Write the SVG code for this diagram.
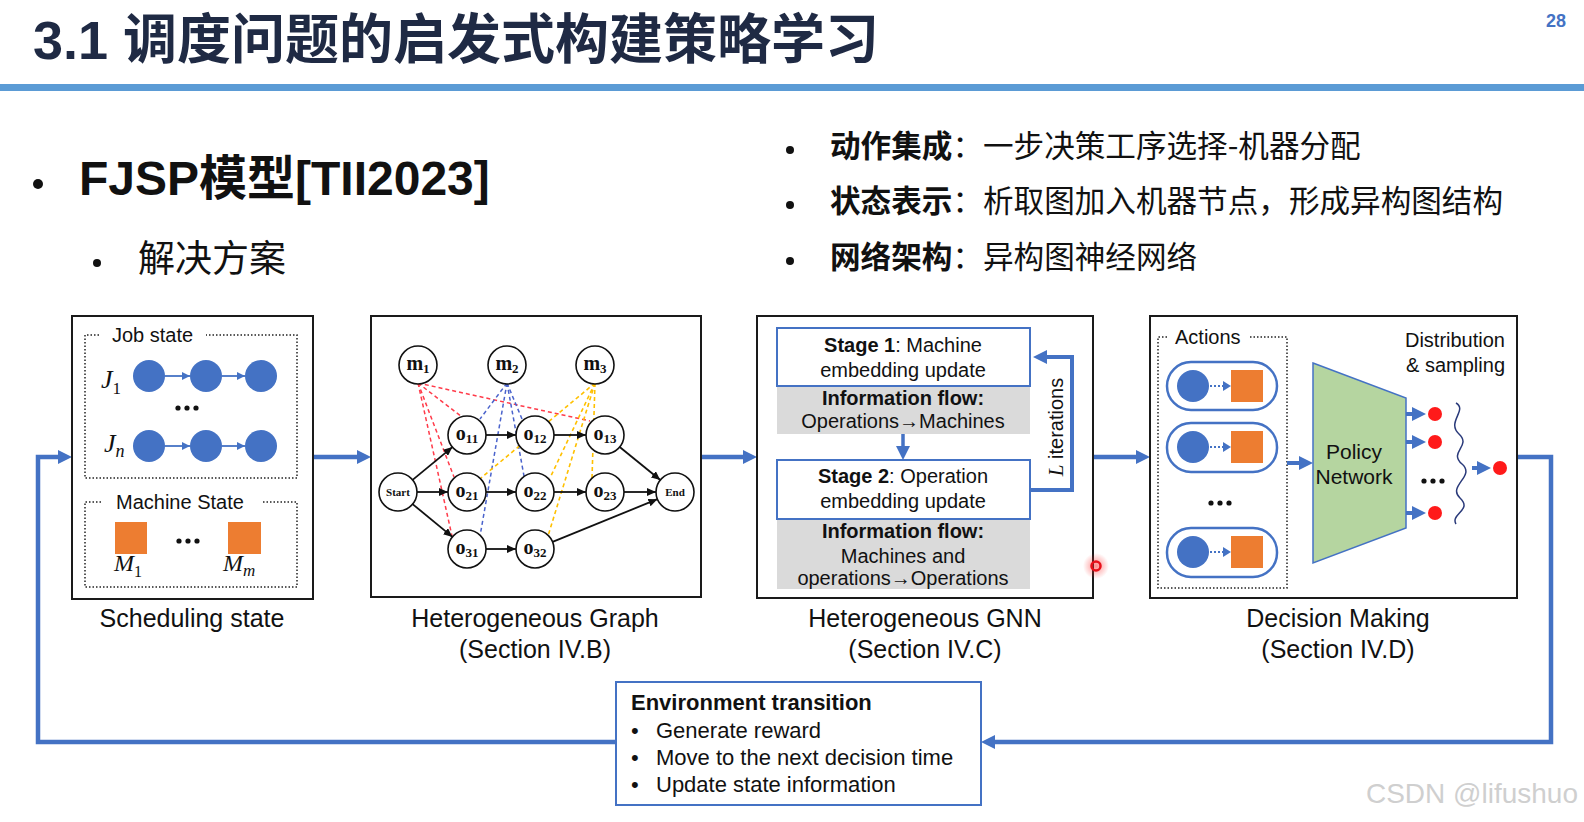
<svg xmlns="http://www.w3.org/2000/svg" width="1584" height="822" viewBox="0 0 1584 822">
<defs>
<style>
.t{font-family:"Liberation Sans","Noto Sans CJK SC",sans-serif;fill:#111}
.cjk{font-family:"Noto Sans CJK SC","Liberation Sans",sans-serif;fill:#111}
.b{font-weight:bold}
.box{fill:#fff;stroke:#1a1a1a;stroke-width:2}
.dot{fill:none;stroke:#222;stroke-width:1.5;stroke-dasharray:1.5 2}
.conn{fill:none;stroke:#4472c4;stroke-width:4.5;marker-end:url(#ab)}
.bl{fill:#4472c4}
.or{fill:#ed7d31}
.rd{fill:#ff1a1a}
.gn{fill:#fff;stroke:#111;stroke-width:1.6}
.ge{stroke:#111;stroke-width:1.8;marker-end:url(#ak)}
.dr{stroke:#ff3b4a;stroke-width:1.5;stroke-dasharray:4 3}
.db{stroke:#4a63cc;stroke-width:1.5;stroke-dasharray:4 3}
.dy{stroke:#ffc000;stroke-width:1.6;stroke-dasharray:4 3}
.gl{font-family:"Liberation Serif",serif;font-weight:bold;font-size:20px;text-anchor:middle;fill:#111}
.gs{font-family:"Liberation Serif",serif;font-weight:bold;font-size:11px;text-anchor:middle;fill:#111}
.sub{font-size:13px}
.math{font-family:"Liberation Serif",serif;font-style:italic;fill:#111}
.stg{fill:#fff;stroke:#4472c4;stroke-width:2}
.gray{fill:#dadada}
.pill{fill:#fff;stroke:#4472c4;stroke-width:2.5}
.sa{stroke:#4472c4;stroke-width:1.8;marker-end:url(#as)}
.c{text-anchor:middle}
</style>
<marker id="ab" markerUnits="userSpaceOnUse" viewBox="0 0 14 14" markerWidth="14" markerHeight="14" refX="4" refY="7" orient="auto"><path d="M0,0 L14,7 L0,14 z" fill="#4472c4"/></marker>
<marker id="as" markerUnits="userSpaceOnUse" viewBox="0 0 8 8" markerWidth="8" markerHeight="8" refX="8" refY="4" orient="auto"><path d="M0,0 L8,4 L0,8 z" fill="#4472c4"/></marker>
<marker id="ak" markerUnits="userSpaceOnUse" viewBox="0 0 9 8" markerWidth="9" markerHeight="8" refX="9" refY="4" orient="auto"><path d="M0,0 L9,4 L0,8 z" fill="#111"/></marker>
<radialGradient id="glow"><stop offset="0" stop-color="#ff3030" stop-opacity="0.55"/><stop offset="1" stop-color="#ff3030" stop-opacity="0"/></radialGradient>
</defs>
<rect width="1584" height="822" fill="#fff"/>

<g id="header">
<text class="t b" x="33" y="59" font-size="54" style="fill:#1f2a44">3.1 调度问题的启发式构建策略学习</text>
<rect x="0" y="84" width="1584" height="7" fill="#5b9bd5"/>
<text class="t b" x="1566" y="27" font-size="18" text-anchor="end" style="fill:#4472c4">28</text>
</g>

<g id="bullets">
<circle cx="38" cy="184" r="5" fill="#111"/>
<text class="t b" x="79" y="195" font-size="48">FJSP模型[TII2023]</text>
<circle cx="97" cy="263" r="4" fill="#111"/>
<text class="cjk" x="138" y="272" font-size="37">解决方案</text>
<circle cx="790" cy="150" r="4" fill="#111"/>
<text class="cjk" x="830" y="157" font-size="30.6"><tspan font-weight="bold">动作集成</tspan>：一步决策工序选择-机器分配</text>
<circle cx="790" cy="205" r="4" fill="#111"/>
<text class="cjk" x="830" y="212" font-size="30.6"><tspan font-weight="bold">状态表示</tspan>：析取图加入机器节点，形成异构图结构</text>
<circle cx="790" cy="261" r="4" fill="#111"/>
<text class="cjk" x="830" y="268" font-size="30.6"><tspan font-weight="bold">网络架构</tspan>：异构图神经网络</text>
</g>

<g id="connectors">
<path class="conn" d="M313,457 H361"/>
<path class="conn" d="M701,457 H747"/>
<path class="conn" d="M1093,457 H1140"/>
<path class="conn" d="M1517,457 H1551 V742 H991"/>
<path class="conn" d="M616,742 H38 V457 H62"/>
</g>

<g id="scheduling-state">
<rect class="box" x="72" y="316" width="241" height="283"/>
<path class="dot" d="M99,335 H85 V478 H297 V335 H206"/>
<text class="t" x="112" y="342" font-size="20">Job state</text>
<text class="math" x="101" y="388" font-size="26">J<tspan font-style="normal" font-size="17" dy="6">1</tspan></text>
<circle class="bl" cx="149" cy="376" r="16"/>
<circle class="bl" cx="206" cy="376" r="16"/>
<circle class="bl" cx="261" cy="376" r="16"/>
<line class="sa" x1="165" y1="376" x2="190" y2="376"/>
<line class="sa" x1="222" y1="376" x2="245" y2="376"/>
<circle cx="178" cy="408" r="2.6" fill="#111"/><circle cx="187" cy="408" r="2.6" fill="#111"/><circle cx="196" cy="408" r="2.6" fill="#111"/>
<text class="math" x="104" y="452" font-size="26">J<tspan font-size="18" dy="5">n</tspan></text>
<circle class="bl" cx="149" cy="446" r="16"/>
<circle class="bl" cx="206" cy="446" r="16"/>
<circle class="bl" cx="261" cy="446" r="16"/>
<line class="sa" x1="165" y1="446" x2="190" y2="446"/>
<line class="sa" x1="222" y1="446" x2="245" y2="446"/>
<path class="dot" d="M101,502 H85 V587 H297 V502 H262"/>
<text class="t" x="116" y="509" font-size="20">Machine State</text>
<rect class="or" x="115" y="522" width="32" height="32"/>
<rect class="or" x="228" y="522" width="33" height="32"/>
<circle cx="179" cy="541" r="2.6" fill="#111"/><circle cx="188" cy="541" r="2.6" fill="#111"/><circle cx="197" cy="541" r="2.6" fill="#111"/>
<text class="math" x="114" y="571" font-size="24">M<tspan font-style="normal" font-size="16" dy="6">1</tspan></text>
<text class="math" x="223" y="571" font-size="24">M<tspan font-size="17" dy="5">m</tspan></text>
<text class="t c" x="192" y="627" font-size="25">Scheduling state</text>
</g>

<g id="heterogeneous-graph">
<rect class="box" x="371" y="316" width="330" height="281"/>
<g id="graph-edges">
<line class="dr" x1="418" y1="383" x2="462" y2="417"/>
<line class="dr" x1="418" y1="383" x2="590" y2="421"/>
<line class="dr" x1="418" y1="383" x2="454" y2="477"/>
<line class="dr" x1="418" y1="383" x2="452" y2="536"/>
<line class="db" x1="507" y1="383" x2="480" y2="419"/>
<line class="db" x1="507" y1="383" x2="522" y2="419"/>
<line class="db" x1="507" y1="383" x2="524" y2="476"/>
<line class="db" x1="507" y1="383" x2="480" y2="536"/>
<line class="dy" x1="595" y1="383" x2="481" y2="478"/>
<line class="dy" x1="595" y1="383" x2="550" y2="478"/>
<line class="dy" x1="595" y1="383" x2="548" y2="536"/>
<line class="dy" x1="595" y1="383" x2="592" y2="478"/>
<line class="ge" x1="412.6" y1="479.9" x2="452.4" y2="447.1"/>
<line class="ge" x1="417" y1="492" x2="448" y2="492"/>
<line class="ge" x1="412.6" y1="504.1" x2="452.4" y2="536.9"/>
<line class="ge" x1="486" y1="435" x2="516" y2="435"/>
<line class="ge" x1="554" y1="435" x2="586" y2="435"/>
<line class="ge" x1="486" y1="492" x2="516" y2="492"/>
<line class="ge" x1="554" y1="492" x2="586" y2="492"/>
<line class="ge" x1="486" y1="549" x2="516" y2="549"/>
<line class="ge" x1="619.7" y1="447" x2="660.3" y2="480"/>
<line class="ge" x1="624" y1="492" x2="656" y2="492"/>
<line class="ge" x1="552.6" y1="541.8" x2="657.4" y2="499.2"/>
</g>
<g id="n-m1"><circle class="gn" cx="418" cy="365" r="19"/><text class="gl" x="418" y="370">m<tspan class="sub" dy="3">1</tspan></text></g>
<g id="n-m2"><circle class="gn" cx="507" cy="365" r="19"/><text class="gl" x="507" y="370">m<tspan class="sub" dy="3">2</tspan></text></g>
<g id="n-m3"><circle class="gn" cx="595" cy="365" r="19"/><text class="gl" x="595" y="370">m<tspan class="sub" dy="3">3</tspan></text></g>
<g id="n-o11"><circle class="gn" cx="467" cy="435" r="19"/><text class="gl" x="467" y="440">o<tspan class="sub" dy="3">11</tspan></text></g>
<g id="n-o12"><circle class="gn" cx="535" cy="435" r="19"/><text class="gl" x="535" y="440">o<tspan class="sub" dy="3">12</tspan></text></g>
<g id="n-o13"><circle class="gn" cx="605" cy="435" r="19"/><text class="gl" x="605" y="440">o<tspan class="sub" dy="3">13</tspan></text></g>
<g id="n-o21"><circle class="gn" cx="467" cy="492" r="19"/><text class="gl" x="467" y="497">o<tspan class="sub" dy="3">21</tspan></text></g>
<g id="n-o22"><circle class="gn" cx="535" cy="492" r="19"/><text class="gl" x="535" y="497">o<tspan class="sub" dy="3">22</tspan></text></g>
<g id="n-o23"><circle class="gn" cx="605" cy="492" r="19"/><text class="gl" x="605" y="497">o<tspan class="sub" dy="3">23</tspan></text></g>
<g id="n-o31"><circle class="gn" cx="467" cy="549" r="19"/><text class="gl" x="467" y="554">o<tspan class="sub" dy="3">31</tspan></text></g>
<g id="n-o32"><circle class="gn" cx="535" cy="549" r="19"/><text class="gl" x="535" y="554">o<tspan class="sub" dy="3">32</tspan></text></g>
<g id="n-start"><circle class="gn" cx="398" cy="492" r="19"/><text class="gs" x="398" y="496">Start</text></g>
<g id="n-end"><circle class="gn" cx="675" cy="492" r="19"/><text class="gs" x="675" y="496">End</text></g>
<text class="t c" x="535" y="627" font-size="25">Heterogeneous Graph</text>
<text class="t c" x="535" y="658" font-size="25">(Section IV.B)</text>
</g>

<g id="heterogeneous-gnn">
<rect class="box" x="757" y="316" width="336" height="282"/>
<rect class="gray" x="777" y="386" width="253" height="48"/>
<rect class="gray" x="777" y="519" width="253" height="70"/>
<rect class="stg" x="777" y="328" width="253" height="58"/>
<rect class="stg" x="777" y="460" width="253" height="59"/>
<text class="t c" x="903" y="352" font-size="20"><tspan font-weight="bold">Stage 1</tspan>: Machine</text>
<text class="t c" x="903" y="377" font-size="20">embedding update</text>
<text class="t c b" x="903" y="405" font-size="20">Information flow:</text>
<text class="t c" x="903" y="428" font-size="20">Operations→Machines</text>
<text class="t c" x="903" y="483" font-size="20"><tspan font-weight="bold">Stage 2</tspan>: Operation</text>
<text class="t c" x="903" y="508" font-size="20">embedding update</text>
<text class="t c b" x="903" y="538" font-size="20">Information flow:</text>
<text class="t c" x="903" y="563" font-size="20">Machines and</text>
<text class="t c" x="903" y="585" font-size="20">operations→Operations</text>
<path d="M903,434 V450" fill="none" stroke="#4472c4" stroke-width="3.5" marker-end="url(#ab)"/>
<path d="M1030,490 H1072 V357 H1043" fill="none" stroke="#4472c4" stroke-width="4" marker-end="url(#ab)"/>
<text class="t" transform="translate(1056,427) rotate(-90)" x="0" y="7" font-size="20" text-anchor="middle"><tspan class="math" font-size="21">L</tspan> iterations</text>
<text class="t c" x="925" y="627" font-size="25">Heterogeneous GNN</text>
<text class="t c" x="925" y="658" font-size="25">(Section IV.C)</text>
</g>

<g id="decision-making">
<rect class="box" x="1150" y="316" width="367" height="282"/>
<path class="dot" d="M1167,337 H1158 V588 H1287 V337 H1250"/>
<text class="t" x="1175" y="344" font-size="20">Actions</text>
<rect class="pill" x="1167" y="362" width="110" height="48" rx="24"/>
<circle class="bl" cx="1193" cy="386" r="16"/>
<line x1="1210" y1="386" x2="1224" y2="386" stroke="#4472c4" stroke-width="2" stroke-dasharray="2 2"/>
<path d="M1223,381 L1231,386 L1223,391 z" fill="#4472c4"/>
<rect class="or" x="1231" y="370" width="32" height="32"/>
<rect class="pill" x="1167" y="423" width="110" height="49" rx="24"/>
<circle class="bl" cx="1193" cy="447" r="16"/>
<line x1="1210" y1="447" x2="1224" y2="447" stroke="#4472c4" stroke-width="2" stroke-dasharray="2 2"/>
<path d="M1223,442 L1231,447 L1223,452 z" fill="#4472c4"/>
<rect class="or" x="1231" y="431" width="32" height="32"/>
<circle cx="1211" cy="503" r="2.6" fill="#111"/><circle cx="1220" cy="503" r="2.6" fill="#111"/><circle cx="1229" cy="503" r="2.6" fill="#111"/>
<rect class="pill" x="1167" y="528" width="110" height="49" rx="24"/>
<circle class="bl" cx="1193" cy="552" r="16"/>
<line x1="1210" y1="552" x2="1224" y2="552" stroke="#4472c4" stroke-width="2" stroke-dasharray="2 2"/>
<path d="M1223,547 L1231,552 L1223,557 z" fill="#4472c4"/>
<rect class="or" x="1231" y="536" width="32" height="32"/>
<path d="M1287,463 H1303" fill="none" stroke="#4472c4" stroke-width="4" marker-end="url(#ab)"/>
<polygon points="1313,363 1406,398 1406,528 1313,563" fill="#b5d5a0" stroke="#4472c4" stroke-width="1.5"/>
<text class="t c" x="1354" y="459" font-size="21">Policy</text>
<text class="t c" x="1354" y="484" font-size="21">Network</text>
<path d="M1406,414 H1416" fill="none" stroke="#4472c4" stroke-width="4" marker-end="url(#ab)"/>
<path d="M1406,442 H1416" fill="none" stroke="#4472c4" stroke-width="4" marker-end="url(#ab)"/>
<path d="M1406,513 H1416" fill="none" stroke="#4472c4" stroke-width="4" marker-end="url(#ab)"/>
<circle class="rd" cx="1435" cy="414" r="7"/>
<circle class="rd" cx="1435" cy="442" r="7"/>
<circle class="rd" cx="1435" cy="513" r="7"/>
<circle cx="1424" cy="481" r="2.6" fill="#111"/><circle cx="1433" cy="481" r="2.6" fill="#111"/><circle cx="1442" cy="481" r="2.6" fill="#111"/>
<path d="M1456,403 C1468,410 1446,422 1459,434 S1448,452 1462,464 S1447,486 1460,498 S1450,514 1456,524" fill="none" stroke="#2a3a7a" stroke-width="1.5"/>
<path d="M1472,468 H1481" fill="none" stroke="#4472c4" stroke-width="4" marker-end="url(#ab)"/>
<circle class="rd" cx="1500" cy="468" r="7"/>
<text class="t" x="1505" y="347" font-size="20" text-anchor="end">Distribution</text>
<text class="t" x="1505" y="372" font-size="20" text-anchor="end">&amp; sampling</text>
<text class="t c" x="1338" y="627" font-size="25">Decision Making</text>
<text class="t c" x="1338" y="658" font-size="25">(Section IV.D)</text>
</g>

<g id="environment-transition">
<rect x="616" y="682" width="365" height="123" fill="#fff" stroke="#4472c4" stroke-width="2"/>
<text class="t b" x="631" y="710" font-size="22">Environment transition</text>
<text class="t" x="631" y="738" font-size="22">•</text>
<text class="t" x="656" y="738" font-size="22">Generate reward</text>
<text class="t" x="631" y="765" font-size="22">•</text>
<text class="t" x="656" y="765" font-size="22">Move to the next decision time</text>
<text class="t" x="631" y="792" font-size="22">•</text>
<text class="t" x="656" y="792" font-size="22">Update state information</text>
</g>

<g id="pointer">
<circle cx="1096" cy="566" r="13" fill="url(#glow)"/>
<circle cx="1096" cy="566" r="4.5" fill="none" stroke="#e8101a" stroke-width="2.5"/>
</g>
<text class="t" x="1578" y="803" font-size="28" text-anchor="end" style="fill:#cfcfcf">CSDN @lifushuo</text>
</svg>
